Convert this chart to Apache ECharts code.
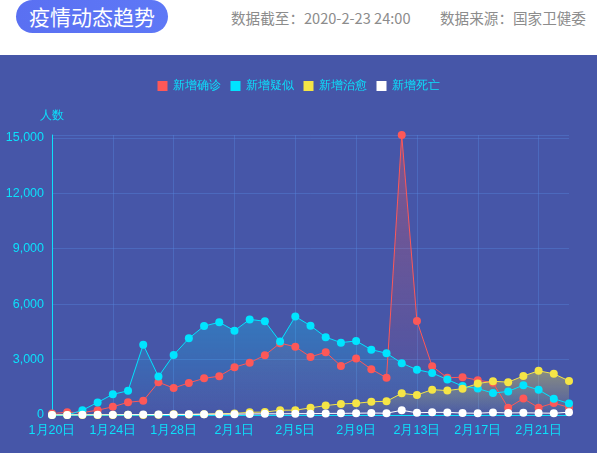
<!DOCTYPE html>
<html>
<head>
<meta charset="utf-8">
<script src="https://cdn.jsdelivr.net/npm/echarts@6/dist/echarts.min.js"></script>
<style>
  html, body { margin:0; padding:0; width:597px; height:453px; overflow:hidden; background:#fff;
    font-family: "Noto Sans CJK SC", "Noto Sans", sans-serif; }
  #head { position:absolute; left:0; top:0; width:597px; height:55px; background:#fff; }
  #pill { position:absolute; left:16px; top:0px; width:152px; height:33px; border-radius:17px;
    background:linear-gradient(90deg,#5a70f2,#5e78f6); color:#fff; font-size:21px; line-height:33px;
    text-align:center; }
  .info { position:absolute; top:8px; font-size:14.6px; color:#8c8c8c; line-height:20px; white-space:nowrap; }
  #chart { position:absolute; left:0; top:55px; width:597px; height:398px; background:#4656a8; }
</style>
</head>
<body>
<div id="head">
  <div id="pill">疫情动态趋势</div>
  <div class="info" style="left:231px;">数据截至：2020-2-23 24:00</div>
  <div class="info" style="left:440px;">数据来源：国家卫健委</div>
</div>
<div id="chart"></div>
<script>
const categories = ['1月20日','1月21日','1月22日','1月23日','1月24日','1月25日','1月26日','1月27日','1月28日','1月29日','1月30日','1月31日',
  '2月1日','2月2日','2月3日','2月4日','2月5日','2月6日','2月7日','2月8日','2月9日','2月10日','2月11日','2月12日','2月13日',
  '2月14日','2月15日','2月16日','2月17日','2月18日','2月19日','2月20日','2月21日','2月22日','2月23日'];
const seriesNames = ['新增确诊','新增疑似','新增治愈','新增死亡'];
const confirmed = [77,149,131,259,444,688,769,1771,1459,1737,1982,2102,2590,2829,3235,3887,3694,3143,3399,2656,3062,2478,2015,15152,5090,2641,2009,2048,1886,1749,394,889,397,648,409];
const suspected = [0,0,257,680,1118,1309,3806,2077,3248,4148,4812,5019,4562,5173,5072,3971,5328,4833,4214,3916,4008,3536,3342,2807,2450,2277,1918,1563,1432,1185,1277,1614,1361,882,620];
const cured = [0,0,5,6,3,11,2,9,43,21,47,72,85,147,157,262,261,387,510,600,632,716,744,1171,1081,1373,1323,1425,1701,1824,1779,2109,2393,2230,1846];
const deaths = [3,3,8,8,16,15,24,26,26,38,43,46,45,57,64,65,73,73,86,89,97,108,97,254,121,143,142,105,98,136,114,118,109,97,150];
const yMax = 15152;
const colors = ['#fd5858','#00e4ff','#f5e546','#ffffff'];

const cyan = '#0ce0fb';
function rgba(hex, a){
  const n = parseInt(hex.slice(1),16);
  return 'rgba(' + ((n>>16)&255) + ',' + ((n>>8)&255) + ',' + (n&255) + ',' + a + ')';
}
const allData = [confirmed, suspected, cured, deaths];
const fillTop = [0.45, 0.35, 0.55, 0.0];

const chart = echarts.init(document.getElementById('chart'));
chart.setOption({
  animation: false,
  color: colors,
  legend: {
    top: 20, left: 'center', icon: 'rect', itemWidth: 10, itemHeight: 10, itemGap: 10,
    textStyle: { color: cyan, fontSize: 12 },
    data: seriesNames
  },
  grid: { left: 52, right: 28, top: 80, bottom: 38 },
  xAxis: {
    type: 'category', boundaryGap: false, data: categories,
    axisLine: { lineStyle: { color: cyan, width: 1 } },
    axisTick: { show: false },
    axisLabel: { color: cyan, fontSize: 12.5, interval: 3, margin: 9 },
    splitLine: { show: true, interval: 3, lineStyle: { color: 'rgba(90,140,230,0.35)' } }
  },
  yAxis: {
    type: 'value', min: 0, max: yMax, interval: 3000,
    name: '人数', nameGap: 13, nameTextStyle: { color: cyan, fontSize: 12 },
    axisLine: { show: true, lineStyle: { color: cyan, width: 1 } },
    axisTick: { show: false },
    axisLabel: { color: cyan, fontSize: 12.5, showMaxLabel: false,
      formatter: v => v.toLocaleString('en-US') },
    splitLine: { lineStyle: { color: 'rgba(90,140,230,0.35)' } }
  },
  series: seriesNames.map((name, i) => ({
    name, type: 'line', data: allData[i],
    symbol: 'circle', symbolSize: 8, showAllSymbol: true,
    lineStyle: { width: 1, color: colors[i] },
    itemStyle: { color: colors[i] },
    areaStyle: fillTop[i] > 0 ? {
      color: new echarts.graphic.LinearGradient(0, 0, 0, 1, [
        { offset: 0, color: rgba(colors[i], fillTop[i]) },
        { offset: 1, color: rgba(colors[i], 0.02) }
      ])
    } : undefined
  }))
});
</script>
</body>
</html>
